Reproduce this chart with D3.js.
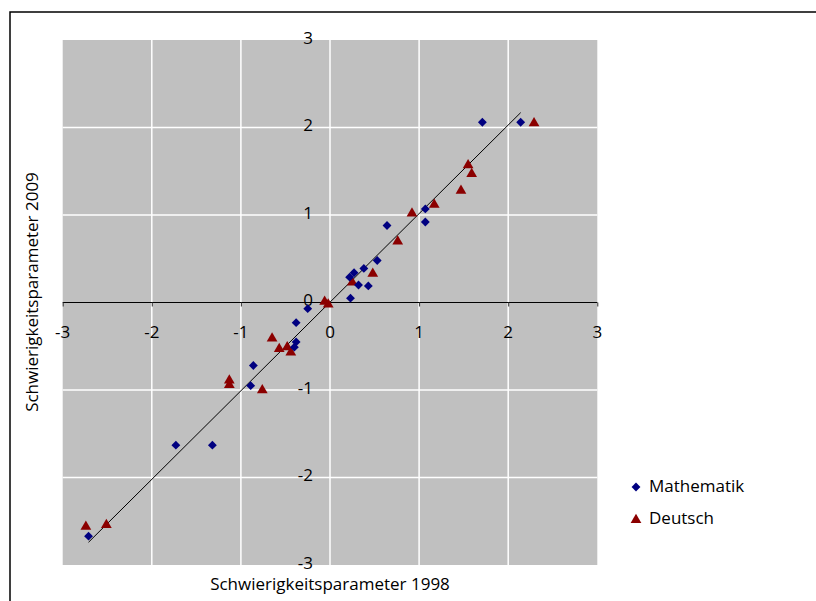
<!DOCTYPE html>
<html><head><meta charset="utf-8">
<script src="https://cdn.jsdelivr.net/npm/d3@7"></script>
<style>body{margin:0;background:#fff}svg{display:block}text{font-family:"Open Sans",sans-serif;fill:#000}</style>
</head><body><svg id="c" width="816" height="601"></svg>
<script>
const xTicks = [-3,-2,-1,0,1,2,3];
const yTicks = [-3,-2,-1,0,1,2,3];
const mathX = [1.71,2.14,1.07,1.07,0.64,0.53,0.38,0.27,0.22,0.32,0.43,0.23,-0.25,-0.38,-0.38,-0.40,-0.86,-0.89,-1.73,-1.32,-2.71];
const mathY = [2.06,2.06,1.07,0.92,0.88,0.48,0.39,0.34,0.29,0.20,0.19,0.05,-0.07,-0.23,-0.45,-0.51,-0.72,-0.95,-1.63,-1.63,-2.67];
const deuX = [2.29,1.55,1.59,1.47,1.17,0.92,0.76,0.48,0.25,-0.06,-0.02,-0.65,-0.57,-0.48,-0.44,-1.13,-1.13,-0.76,-2.74,-2.51];
const deuY = [2.06,1.58,1.48,1.29,1.13,1.03,0.71,0.34,0.24,0.02,-0.01,-0.40,-0.52,-0.50,-0.56,-0.88,-0.93,-0.99,-2.55,-2.53];
const trendX = [-2.71,2.14];
const trendY = [-2.74,2.17];
const seriesNames = ["Mathematik","Deutsch"];
const xTitle = "Schwierigkeitsparameter 1998";
const yTitle = "Schwierigkeitsparameter 2009";

const svg = d3.select("#c");
const L=62.7,R=597.3,T=40,B=565;
const x = d3.scaleLinear().domain([-3,3]).range([L,R]);
const y = d3.scaleLinear().domain([-3,3]).range([B,T]);
const blue="#000080", red="#8B0000";

// outer border
svg.append("path").attr("d","M10,601 V12 H816").attr("fill","none").attr("stroke","#000").attr("stroke-width",1.5);

// plot area
svg.append("rect").attr("x",L).attr("y",T).attr("width",R-L).attr("height",B-T).attr("fill","#C0C0C0");

// gridlines
svg.append("g").selectAll("line").data(xTicks.filter(d=>d>-3&&d<3)).join("line")
  .attr("x1",d=>x(d)).attr("x2",d=>x(d)).attr("y1",T).attr("y2",B)
  .attr("stroke","#fff").attr("stroke-width",1.5);
svg.append("g").selectAll("line").data(yTicks.filter(d=>d>-3&&d<3&&d!==0)).join("line")
  .attr("y1",d=>y(d)).attr("y2",d=>y(d)).attr("x1",L).attr("x2",R)
  .attr("stroke","#fff").attr("stroke-width",1.5);

// x axis at y=0
const xAxis = d3.axisBottom(x).tickValues(xTicks).tickSize(4).tickFormat("");
const gx = svg.append("g").attr("transform",`translate(0,${y(0)})`).call(xAxis);
gx.select(".domain").attr("stroke","#000").attr("stroke-width",1.2).attr("d",`M${L},0H${R}`);
gx.selectAll(".tick line").attr("stroke","#333");

// x tick labels
svg.append("g").selectAll("text").data(xTicks).join("text")
  .attr("x",d=>x(d)).attr("y",y(0)+31).attr("text-anchor","middle").attr("dominant-baseline","middle")
  .attr("font-size",17).text(d=>d);
// y tick labels
svg.append("g").selectAll("text").data(yTicks).join("text")
  .attr("x",x(0)-17).attr("y",d=>y(d)-1).attr("text-anchor","end").attr("dominant-baseline","middle")
  .attr("font-size",17).text(d=>d);

// trend line
svg.append("line").attr("x1",x(trendX[0])).attr("y1",y(trendY[0])).attr("x2",x(trendX[1])).attr("y2",y(trendY[1]))
  .attr("stroke","#000").attr("stroke-width",1);

const diamond = d3.symbol().type(d3.symbolDiamond2 || d3.symbolDiamond).size(50);
const tri = d3.symbol().type(d3.symbolTriangle).size(50);

svg.append("g").selectAll("path").data(deuX.map((v,i)=>[v,deuY[i]])).join("path")
  .attr("d",tri).attr("transform",d=>`translate(${x(d[0])},${y(d[1])+1})`).attr("fill",red);
svg.append("g").selectAll("path").data(mathX.map((v,i)=>[v,mathY[i]])).join("path")
  .attr("d",diamond).attr("transform",d=>`translate(${x(d[0])},${y(d[1])})`).attr("fill",blue);

// titles
svg.append("text").attr("x",(L+R)/2).attr("y",585).attr("text-anchor","middle").attr("dominant-baseline","middle")
  .attr("font-size",17).text(xTitle);
svg.append("text").attr("transform","translate(33,292) rotate(-90)").attr("text-anchor","middle").attr("dominant-baseline","middle")
  .attr("font-size",17).text(yTitle);

// legend
const leg = svg.append("g");
const ly = [487,519];
leg.append("path").attr("d",diamond).attr("transform",`translate(636,${ly[0]})`).attr("fill",blue);
leg.append("path").attr("d",tri).attr("transform",`translate(636,${ly[1]+1})`).attr("fill",red);
leg.selectAll("text").data(seriesNames).join("text")
  .attr("x",649).attr("y",(d,i)=>ly[i]).attr("dominant-baseline","middle").attr("font-size",17).text(d=>d);
</script></body></html>
